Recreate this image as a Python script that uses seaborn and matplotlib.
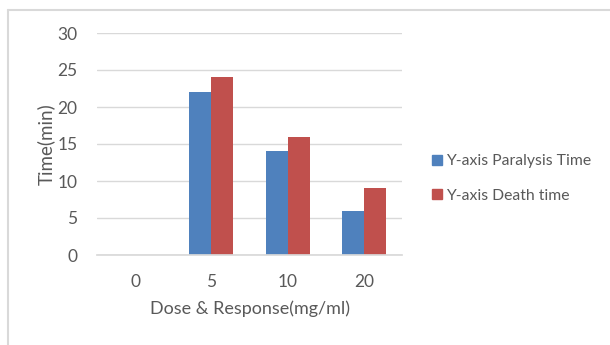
import matplotlib
matplotlib.use("Agg")
import matplotlib.pyplot as plt
import seaborn as sns
import pandas as pd
from matplotlib.lines import Line2D

doses = ["0", "5", "10", "20"]
paralysis = [0, 22, 14, 6]
death = [0, 24, 16, 9]
series_names = ["Y-axis Paralysis Time", "Y-axis Death time"]
y_ticks = [0, 5, 10, 15, 20, 25, 30]

df = pd.DataFrame({
    "dose": doses * 2,
    "time": paralysis + death,
    "series": [series_names[0]] * len(doses) + [series_names[1]] * len(doses),
})

sns.set_theme(style="white")
plt.rcParams['font.family'] = ['Lato', 'DejaVu Sans']
text_color = "#595959"

fig = plt.figure(figsize=(6.1, 3.45), dpi=100)
ax = fig.add_axes([97/610, 1 - 255/345, (402-97)/610, (255-33)/345])

sns.barplot(data=df, x="dose", y="time", hue="series", order=doses,
            hue_order=series_names, palette=["#4F81BD", "#C0504D"],
            width=0.58, gap=0, ax=ax, saturation=1, legend=False,
            linewidth=0, edgecolor="none")

ax.set_ylim(0, 30)
ax.set_yticks(y_ticks)
ax.set_xlim(-0.5, len(doses) - 0.5)
ax.yaxis.grid(True, color="#D9D9D9", linewidth=1)
ax.set_axisbelow(True)
for s in ["top", "right", "left"]:
    ax.spines[s].set_visible(False)
ax.spines["bottom"].set_color("#D9D9D9")
ax.tick_params(axis="both", length=0, labelsize=12.5, colors=text_color)
ax.tick_params(axis="y", pad=14)
ax.tick_params(axis="x", pad=14)
ax.set_ylabel("Time(min)", fontsize=13.5, color=text_color, labelpad=2)
ax.set_xlabel("Dose & Response(mg/ml)", fontsize=13, color=text_color, labelpad=7)

handles = [Line2D([], [], marker="s", linestyle="", markersize=7, color=c)
           for c in ["#4F81BD", "#C0504D"]]
leg = fig.legend(handles, series_names, loc="upper left",
                 bbox_to_anchor=(418/610, 1 - 140/345), frameon=False,
                 fontsize=11.3, handlelength=0.6, handletextpad=0.3,
                 labelspacing=1.3, labelcolor=text_color)

# outer chart border (top and left visible)
fig.add_artist(Line2D([8/610, 1.0], [1 - 10/345, 1 - 10/345], color="#D9D9D9",
                      linewidth=1.5, transform=fig.transFigure))
fig.add_artist(Line2D([8/610, 8/610], [0, 1 - 10/345], color="#D9D9D9",
                      linewidth=1.5, transform=fig.transFigure))

fig.savefig("out.png", dpi=100)
